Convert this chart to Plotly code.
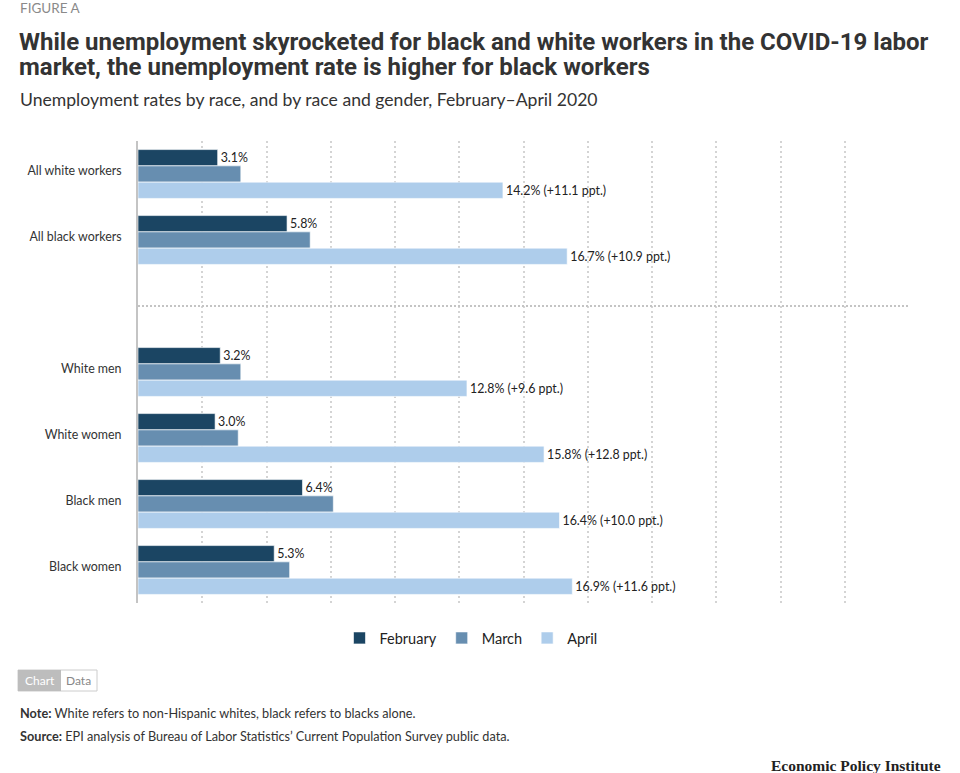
import plotly.graph_objects as go

# ---- data ----
categories = ["All white workers", "All black workers", "White men", "White women", "Black men", "Black women"]
category_order = ["All white workers", "All black workers", " ", "White men", "White women", "Black men", "Black women"]
february = [3.1, 5.8, 3.2, 3.0, 6.4, 5.3]
march = [4.0, 6.7, 4.0, 3.9, 7.6, 5.9]
april = [14.2, 16.7, 12.8, 15.8, 16.4, 16.9]
series_names = ["February", "March", "April"]
colors = ["#1b4563", "#678eb0", "#aecdeb"]

feb_text = [f"{v:.1f}%" for v in february]
apr_text = [f"{a:.1f}% (+{a - f:.1f} ppt.)" for a, f in zip(april, february)]

# ---- layout geometry (window pixels) ----
FW, FH = 960, 773
L, R, T, B = 138, 909, 141, 603
W, H = R - L, B - T

def px(x):
    return (x - L) / W

def py(y):
    return 1 - (y - T) / H

FONT = "Lato"
TXT = "#333333"

fig = go.Figure()
for name, vals, col, txt in [
    (series_names[0], february, colors[0], feb_text),
    (series_names[1], march, colors[1], None),
    (series_names[2], april, colors[2], apr_text),
]:
    fig.add_trace(go.Bar(
        name=name, y=categories, x=vals, orientation="h",
        marker=dict(color=col, line=dict(color="rgba(255,255,255,0.6)", width=1)),
        text=txt, textposition="outside" if txt else "none",
        textfont=dict(family=FONT, size=12.4, color="#222222"),
        constraintext="none", cliponaxis=False, hoverinfo="skip",
    ))

fig.update_layout(
    width=FW, height=FH, barmode="group", bargap=0.26, bargroupgap=0,
    margin=dict(l=L, r=FW - R, t=T, b=FH - B, pad=0),
    paper_bgcolor="white", plot_bgcolor="white",
    font=dict(family=FONT, size=12, color=TXT),
    showlegend=True,
    legend=dict(orientation="h", x=px(471), xanchor="center", y=py(638), yanchor="middle",
                font=dict(family=FONT, size=14.5, color="#222222"), traceorder="normal",
                itemwidth=30, bgcolor="rgba(0,0,0,0)"),
    xaxis=dict(range=[0, 30], dtick=2.5, tick0=0, showticklabels=False, showgrid=True,
               gridcolor="#d4d4d4", gridwidth=2, griddash="2px,3px", zeroline=False,
               showline=False, fixedrange=True),
    yaxis=dict(type="category", categoryorder="array", categoryarray=category_order,
               autorange="reversed", showgrid=False, showline=True, linecolor="#c4c4c4",
               linewidth=2, ticks="", ticklabelstandoff=12, ticklabelshift=3,
               tickfont=dict(family=FONT, size=12.4, color=TXT), zeroline=False),
)

# dotted separator between the two panels
fig.add_shape(type="line", xref="paper", x0=0, x1=1, yref="y", y0=2, y1=2,
              line=dict(color="#c4c4c4", width=2, dash="2px,2px"))

ann = []
ann.append(dict(text="FIGURE A", x=px(18), y=py(8), xanchor="left", yanchor="middle",
                font=dict(family=FONT, size=13.5, color="#8a8a8a")))
ann.append(dict(text="<b>While unemployment skyrocketed for black and white workers in the COVID-19 labor</b>",
                x=px(17), y=py(42), xanchor="left", yanchor="middle",
                font=dict(family="Roboto", size=24, color=TXT)))
ann.append(dict(text="<b>market, the unemployment rate is higher for black workers</b>",
                x=px(17), y=py(67), xanchor="left", yanchor="middle",
                font=dict(family="Roboto", size=24, color=TXT)))
ann.append(dict(text="Unemployment rates by race, and by race and gender, February\u2013April 2020",
                x=px(18), y=py(100), xanchor="left", yanchor="middle",
                font=dict(family=FONT, size=17.6, color=TXT)))
ann.append(dict(text="Chart", x=px(39.5), y=py(680.5), xanchor="center", yanchor="middle",
                font=dict(family=FONT, size=12, color="white")))
ann.append(dict(text="Data", x=px(78.5), y=py(680.5), xanchor="center", yanchor="middle",
                font=dict(family=FONT, size=12, color="#888888")))
ann.append(dict(text="<b>Note:</b> White refers to non-Hispanic whites, black refers to blacks alone.",
                x=px(18), y=py(713), xanchor="left", yanchor="middle",
                font=dict(family=FONT, size=12.7, color=TXT)))
ann.append(dict(text="<b>Source:</b> EPI analysis of Bureau of Labor Statistics\u2019 Current Population Survey public data.",
                x=px(18), y=py(736), xanchor="left", yanchor="middle",
                font=dict(family=FONT, size=12.7, color=TXT)))
ann.append(dict(text="<b>Economic Policy Institute</b>", x=px(943), y=py(765), xanchor="right", yanchor="middle",
                font=dict(family="Liberation Serif", size=15.5, color="#222222")))
for a in ann:
    a.update(xref="paper", yref="paper", showarrow=False)
fig.update_layout(annotations=ann)

# Chart / Data toggle
fig.add_shape(type="rect", xref="paper", yref="paper", x0=px(18), x1=px(97), y0=py(691), y1=py(670),
              line=dict(color="#cccccc", width=1), fillcolor="white", layer="below")
fig.add_shape(type="rect", xref="paper", yref="paper", x0=px(18), x1=px(61), y0=py(691), y1=py(670),
              line=dict(width=0), fillcolor="#bdbdbd", layer="below")

# remove the browser's default 8px body margin so the figure fills the window exactly
fig.write_html("out.html", config={"displayModeBar": False},
               post_script="document.body.style.margin='0px';")
